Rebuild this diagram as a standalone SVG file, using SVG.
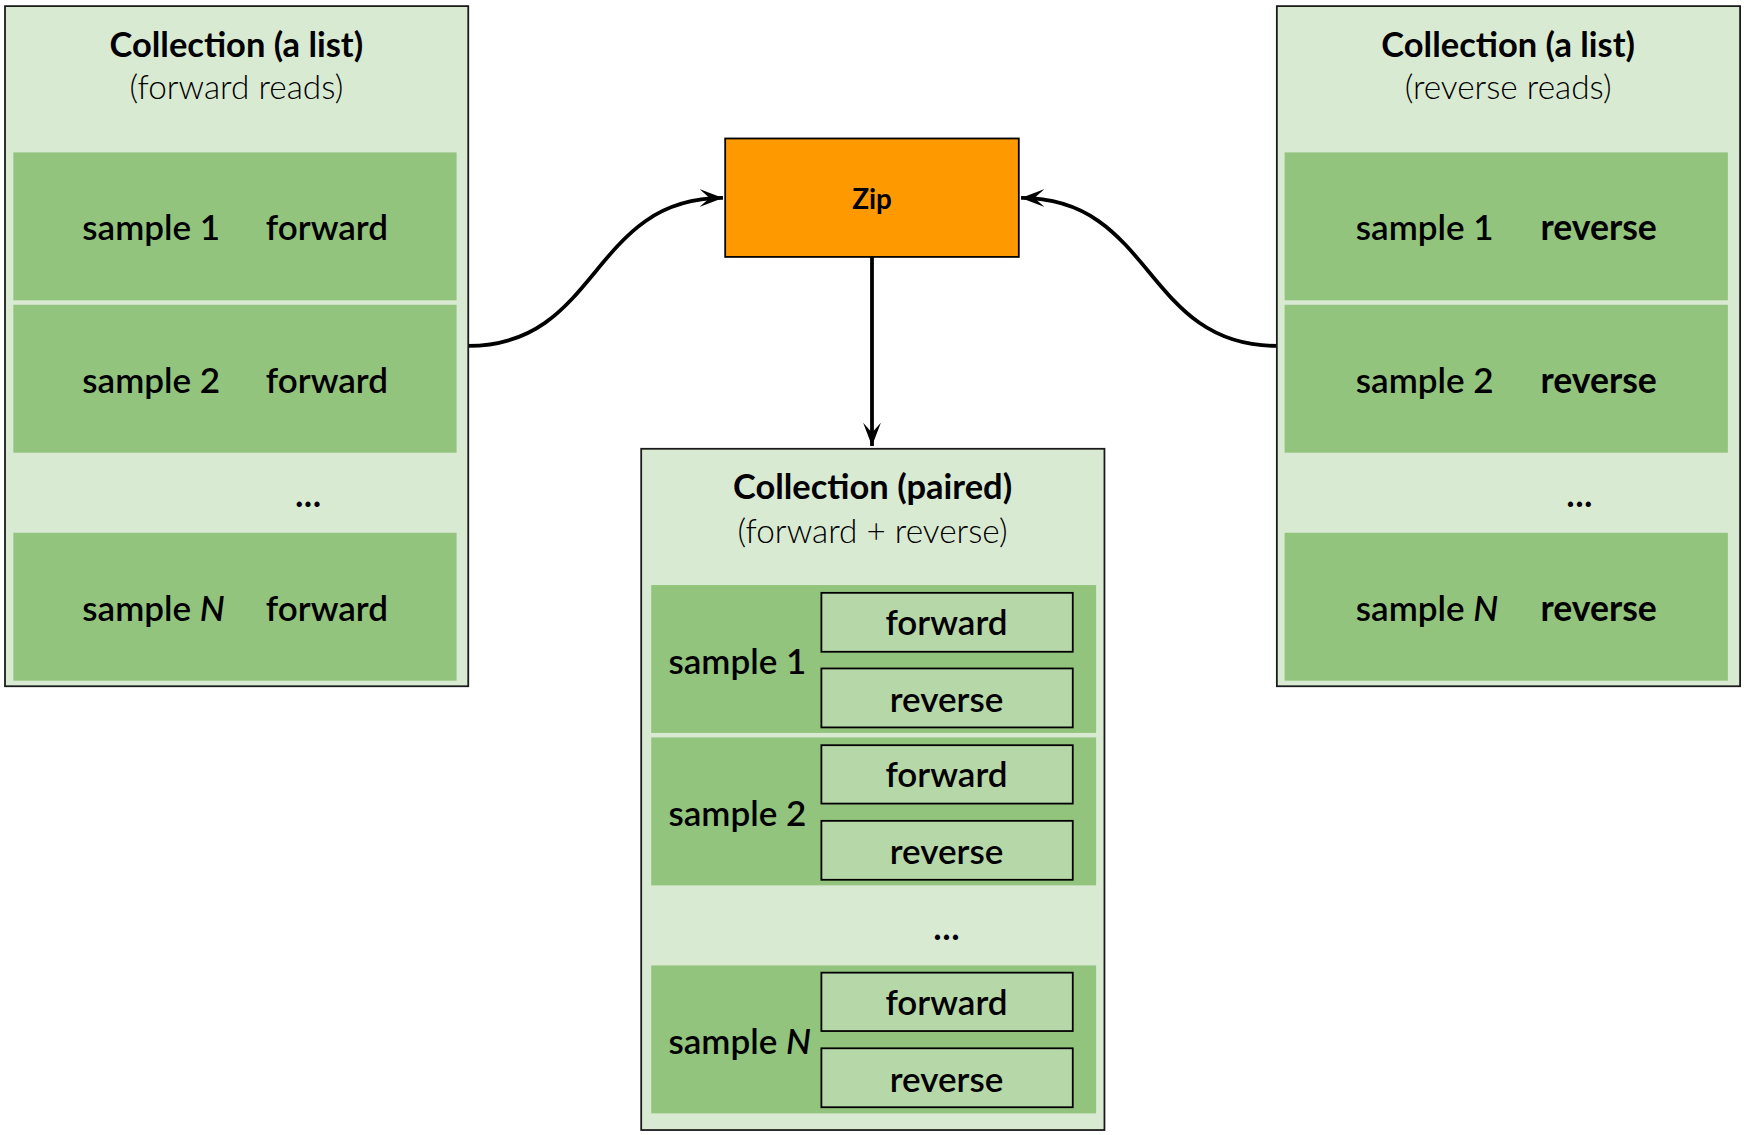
<svg xmlns="http://www.w3.org/2000/svg" width="1744" height="1135" viewBox="0 0 1744 1135">
<style>
.outer{fill:#d9ead3;stroke:#1a1a1a;stroke-width:1.6}
.row{fill:#93c47d;stroke:none}
.inner{fill:#b6d7a8;stroke:#000;stroke-width:1.6}
.zip{fill:#ff9900;stroke:#000;stroke-width:1.6}
text{font-family:Lato,"Liberation Sans",sans-serif;fill:#000}
.title{font-size:31px;font-weight:700;text-anchor:middle}
.sub{font-size:30px;font-weight:300;text-anchor:middle}
.lbl{font-size:31.5px;font-weight:600}
.lblb{font-size:32px;font-weight:700}
.mid{text-anchor:middle}
.dots{font-size:34px;font-weight:600;text-anchor:middle}
.edge{fill:none;stroke:#000;stroke-width:3.4}
</style>
<defs>
<marker id="arr" viewBox="0 0 22 16" refX="21" refY="8" markerWidth="22" markerHeight="16" markerUnits="userSpaceOnUse" orient="auto">
<path d="M0,0 L21,8 L0,16 L9,8 Z" fill="#000"/>
</marker>
</defs>
<rect width="1744" height="1135" fill="#fff"/>
<g transform="scale(1.11224)">
<g id="edges">
<path class="edge" d="M421,311 C540,311 530,178 650,178" marker-end="url(#arr)"/>
<path class="edge" d="M1148,311 C1028,311 1038,178 918,178" marker-end="url(#arr)"/>
<path class="edge" d="M784,231 L784,401" marker-end="url(#arr)"/>
</g>
<g id="left">
<rect class="outer" x="4.5" y="5.5" width="416.5" height="611.5"/>
<text class="title" x="212.5" y="51">Collection (a list)</text>
<text class="sub" x="212.5" y="89">(forward reads)</text>
<rect class="row" x="12" y="137" width="398.5" height="133"/>
<rect class="row" x="12" y="274" width="398.5" height="133"/>
<rect class="row" x="12" y="479" width="398.5" height="133"/>
<text class="lbl" x="74" y="216">sample 1</text>
<text class="lbl" x="239" y="216">forward</text>
<text class="lbl" x="74" y="353">sample 2</text>
<text class="lbl" x="239" y="353">forward</text>
<text class="dots" x="277" y="456">...</text>
<text class="lbl" x="74" y="558">sample <tspan font-style="italic">N</tspan></text>
<text class="lbl" x="239" y="558">forward</text>
</g>
<g id="right">
<rect class="outer" x="1148" y="5.5" width="416.5" height="611.5"/>
<text class="title" x="1356" y="51">Collection (a list)</text>
<text class="sub" x="1356" y="89">(reverse reads)</text>
<rect class="row" x="1155" y="137" width="398.5" height="133"/>
<rect class="row" x="1155" y="274" width="398.5" height="133"/>
<rect class="row" x="1155" y="479" width="398.5" height="133"/>
<text class="lbl" x="1219" y="216">sample 1</text>
<text class="lblb" x="1385" y="216">reverse</text>
<text class="lbl" x="1219" y="353">sample 2</text>
<text class="lblb" x="1385" y="353">reverse</text>
<text class="dots" x="1420" y="456">...</text>
<text class="lbl" x="1219" y="558">sample <tspan font-style="italic">N</tspan></text>
<text class="lblb" x="1385" y="558">reverse</text>
</g>
<g id="zip">
<rect class="zip" x="652" y="124.5" width="264" height="106.5"/>
<text class="mid" x="784" y="188" font-size="25" font-weight="700">Zip</text>
</g>
<g id="paired">
<rect class="outer" x="576.5" y="403.5" width="416.5" height="612.5"/>
<text class="title" x="784.5" y="449">Collection (paired)</text>
<text class="sub" x="784.5" y="488">(forward + reverse)</text>
<rect class="row" x="585.5" y="526" width="400" height="133"/>
<rect class="row" x="585.5" y="663" width="400" height="133"/>
<rect class="row" x="585.5" y="868" width="400" height="133"/>
<rect class="inner" x="738.5" y="533" width="226" height="53"/>
<rect class="inner" x="738.5" y="601" width="226" height="53"/>
<rect class="inner" x="738.5" y="670" width="226" height="52.5"/>
<rect class="inner" x="738.5" y="738" width="226" height="53"/>
<rect class="inner" x="738.5" y="874.5" width="226" height="52.5"/>
<rect class="inner" x="738.5" y="942.5" width="226" height="53"/>
<text class="lbl" x="601" y="606">sample 1</text>
<text class="lbl" x="601" y="743">sample 2</text>
<text class="lbl" x="601" y="948">sample <tspan font-style="italic">N</tspan></text>
<text class="lbl mid" x="851" y="571">forward</text>
<text class="lbl mid" x="851" y="640">reverse</text>
<text class="lbl mid" x="851" y="708">forward</text>
<text class="lbl mid" x="851" y="777">reverse</text>
<text class="dots" x="851" y="845">...</text>
<text class="lbl mid" x="851" y="913">forward</text>
<text class="lbl mid" x="851" y="982">reverse</text>
</g>
</g>
</svg>
